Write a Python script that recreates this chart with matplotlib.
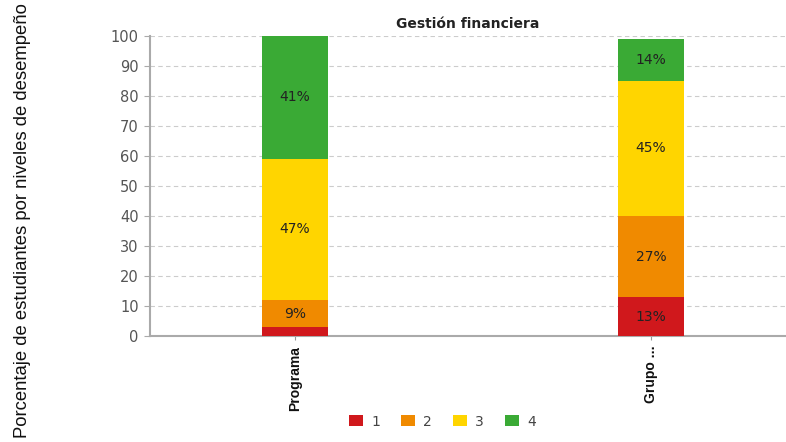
import matplotlib.pyplot as plt
import numpy as np

grupos = ['Programa', 'Grupo ...']
niveles = ['1', '2', '3', '4']
nivel_1 = [3, 13]
nivel_2 = [9, 27]
nivel_3 = [47, 45]
nivel_4 = [41, 14]
colores = ['#d0181c', '#f08a00', '#ffd500', '#3aaa35']

series = [nivel_1, nivel_2, nivel_3, nivel_4]
fam_estrecha = ['Liberation Sans', 'DejaVu Sans']

fig = plt.figure(figsize=(7.86, 4.42), dpi=100)
ax = fig.add_axes([0.1908, 0.2398, 0.8092, 0.6788])

x = np.arange(len(grupos))
base = np.zeros(len(grupos))
for vals, col, nom in zip(series, colores, niveles):
    vals = np.array(vals, dtype=float)
    ax.bar(x, vals, bottom=base, width=0.185, color=col, label=nom, zorder=3)
    for xi, b, v in zip(x, base, vals):
        if v >= 5:
            ax.text(xi, b + v / 2, f'{int(v)}%', ha='center', va='center',
                    fontsize=10, color='#222222', zorder=4)
    base += vals

ax.set_xlim(-0.407, 1.379)
ax.set_ylim(0, 100)
ax.set_yticks(range(0, 101, 10))
ax.tick_params(axis='y', colors='#aaaaaa', labelcolor='#555555', labelsize=10.5,
               length=4, pad=4)
ax.set_xticks(x)
ax.set_xticklabels(grupos, rotation=90, fontsize=10, family=fam_estrecha,
                   color='#111111', fontweight='bold')
ax.tick_params(axis='x', length=3, color='#999999', pad=4)

ax.grid(axis='y', linestyle=(0, (4, 3)), color='#cccccc', linewidth=0.8, zorder=0)
for s in ['top', 'right']:
    ax.spines[s].set_visible(False)
ax.spines['left'].set_color('#aaaaaa')
ax.spines['bottom'].set_color('#aaaaaa')
ax.spines['left'].set_linewidth(1.5)
ax.spines['bottom'].set_linewidth(1.5)

ax.set_title('Gestión financiera', fontsize=10, fontweight='bold', color='#222222', pad=6)

fig.text(0.028, 0.5, 'Porcentaje de estudiantes por niveles de desempeño',
         rotation=90, ha='center', va='center', fontsize=13.3,
         family=fam_estrecha, color='#111111')

ax.legend(loc='center', bbox_to_anchor=(0.46, -0.285), ncol=4, frameon=False,
          fontsize=10, handlelength=1.0, handleheight=0.8, columnspacing=1.5,
          handletextpad=0.6, labelcolor='#444444')

fig.savefig('out.png', dpi=100)
